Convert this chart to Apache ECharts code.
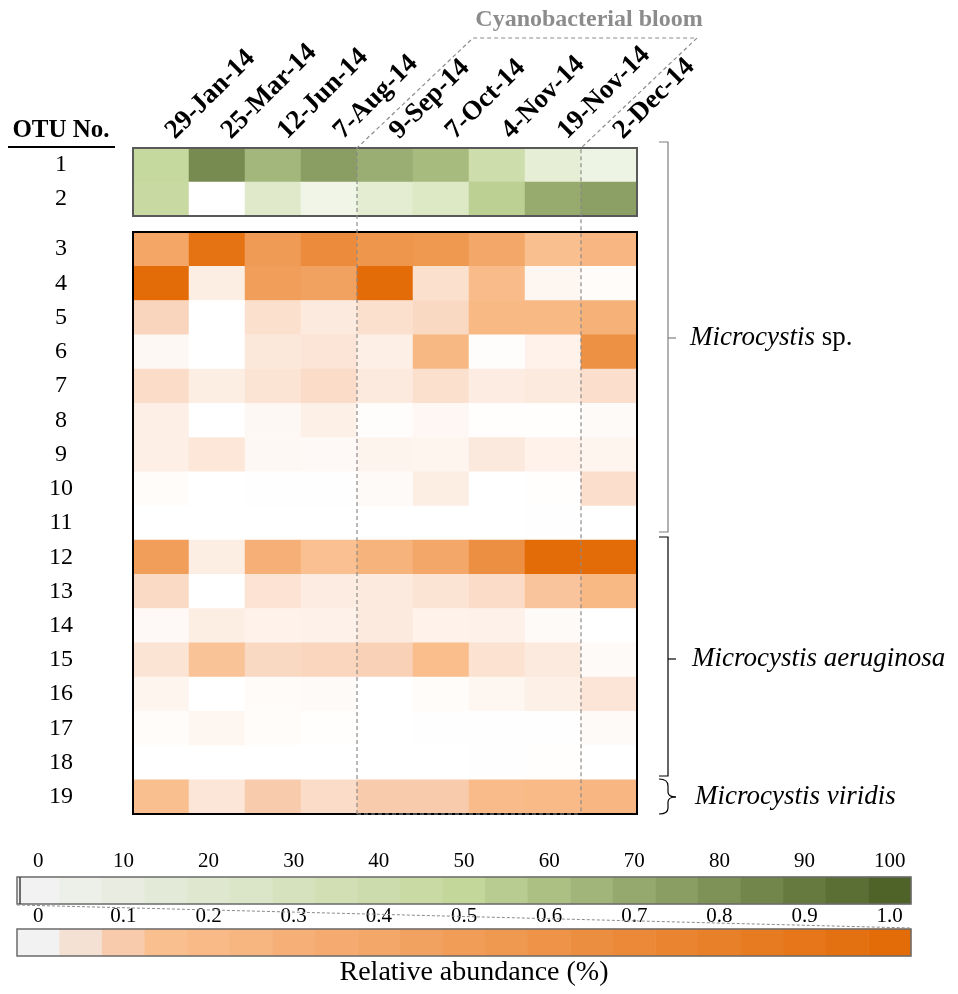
<!DOCTYPE html>
<html><head><meta charset="utf-8">
<script src="https://cdn.jsdelivr.net/npm/echarts@6/dist/echarts.min.js"></script>
<style>html,body{margin:0;padding:0;background:#fff}#chart{width:958px;height:994px}</style>
</head><body><div id="chart"></div>
<script>
// ---------------- data ----------------
const dates = ['29-Jan-14','25-Mar-14','12-Jun-14','7-Aug-14','9-Sep-14','7-Oct-14','4-Nov-14','19-Nov-14','2-Dec-14'];
const greenOtus = ['1','2'];
const orangeOtus = ['3','4','5','6','7','8','9','10','11','12','13','14','15','16','17','18','19'];
// relative abundance (%) : OTU 1-2 on 0-100 scale
const otu1 = [49, 83, 64, 75, 68, 62, 42, 21, 14];
const otu2 = [47, 0, 26, 12, 23, 29, 53, 69, 74];
// OTU 3-19 on 0-1 scale
const otu3  = [0.41, 0.93, 0.52, 0.68, 0.57, 0.55, 0.39, 0.15, 0.23];
const otu4  = [1.0, 0.033, 0.49, 0.45, 1.0, 0.06, 0.19, 0.017, 0.006];
const otu5  = [0.08, 0, 0.06, 0.04, 0.06, 0.073, 0.21, 0.21, 0.29];
const otu6  = [0.013, 0, 0.044, 0.05, 0.03, 0.22, 0.004, 0.025, 0.62];
const otu7  = [0.067, 0.033, 0.052, 0.067, 0.04, 0.06, 0.037, 0.04, 0.063];
const otu8  = [0.03, 0, 0.013, 0.029, 0.004, 0.015, 0.002, 0.002, 0.01];
const otu9  = [0.03, 0.046, 0.013, 0.011, 0.021, 0.019, 0.042, 0.025, 0.02];
const otu10 = [0.006, 0, 0.001, 0.001, 0.01, 0.033, 0, 0.002, 0.063];
const otu11 = [0, 0, 0, 0, 0, 0, 0, 0.001, 0];
const otu12 = [0.49, 0.033, 0.30, 0.146, 0.27, 0.39, 0.64, 1.0, 1.0];
const otu13 = [0.071, 0, 0.054, 0.037, 0.04, 0.052, 0.067, 0.129, 0.21];
const otu14 = [0.011, 0.033, 0.025, 0.027, 0.04, 0.025, 0.027, 0.01, 0];
const otu15 = [0.052, 0.137, 0.073, 0.079, 0.088, 0.17, 0.056, 0.04, 0.01];
const otu16 = [0.019, 0, 0.008, 0.01, 0, 0.006, 0.017, 0.029, 0.05];
const otu17 = [0.006, 0.017, 0.006, 0.002, 0, 0.001, 0.001, 0.001, 0.01];
const otu18 = [0, 0, 0, 0, 0, 0, 0.001, 0.002, 0];
const otu19 = [0.15, 0.048, 0.1, 0.067, 0.1, 0.1, 0.19, 0.2, 0.23];
// colour-bar steps and tick labels
const greenSteps  = [0,5,10,15,20,25,30,35,40,45,50,55,60,65,70,75,80,85,90,95,100];
const orangeSteps = [0,0.05,0.1,0.15,0.2,0.25,0.3,0.35,0.4,0.45,0.5,0.55,0.6,0.65,0.7,0.75,0.8,0.85,0.9,0.95,1.0];
const greenTicks  = ['0','10','20','30','40','50','60','70','80','90','100'];
const orangeTicks = ['0','0.1','0.2','0.3','0.4','0.5','0.6','0.7','0.8','0.9','1.0'];

// ---------------- styling helpers ----------------
const FONT = "'Liberation Serif','Times New Roman',serif";
function hex2rgb(h){return [parseInt(h.slice(1,3),16),parseInt(h.slice(3,5),16),parseInt(h.slice(5,7),16)];}
function lerp(a,b,t){const A=hex2rgb(a),B=hex2rgb(b);return 'rgb('+A.map((v,i)=>Math.round(v+(B[i]-v)*t)).join(',')+')';}
function orangeScale(c0,c1){
  const arr=[c0,c1,'#f8cbad'];
  for(let k=3;k<=20;k++) arr.push(lerp('#fabf8f','#e36c09',(k-3)/17));
  return arr;
}
const greenMapColors  = ['#ffffff','#c4d79b','#4f6228'];
const greenBarColors  = ['#f2f2f2','#c4d79b','#4f6228'];
const orangeMapColors = orangeScale('#ffffff','#fce5d6');
const orangeBarColors = orangeScale('#f2f2f2','#f5e1d4');

// ---------------- layout ----------------
const GX = 133, GW = 504, COLW = GW/9;
const GT = 148, GH = 68;
const OT = 232, OH = 582;
const LBX = 17, LBW = 894, LGT = 877, LOT = 929, LBH = 27;

function cells(rows){
  const out=[];
  rows.forEach((r,ri)=>r.forEach((v,ci)=>out.push([ci,ri,v])));
  return out;
}
const greenData  = cells([otu1,otu2]);
const orangeData = cells([otu3,otu4,otu5,otu6,otu7,otu8,otu9,otu10,otu11,otu12,otu13,otu14,otu15,otu16,otu17,otu18,otu19]);

const chart = echarts.init(document.getElementById('chart'));
const yLab = {fontFamily:FONT,fontSize:24,color:'#000',align:'center',margin:GX-61};
const hm = {type:'heatmap',silent:true,itemStyle:{borderWidth:0},emphasis:{disabled:true},progressive:0};

const dash = {stroke:'#8c8c8c',lineWidth:1.2,lineDash:[4,3],fill:null};
const c4 = GX+4*COLW, c8 = GX+8*COLW;
const brace = {stroke:'#000',lineWidth:1.2,fill:null};
const italic = {i:{fontStyle:'italic',fontFamily:FONT,fontSize:27}};
const option = {
  animation:false,
  backgroundColor:'#fff',
  grid:[
    {left:GX,top:GT,width:GW,height:GH},
    {left:GX,top:OT,width:GW,height:OH},
    {left:LBX,top:LGT,width:LBW,height:LBH},
    {left:LBX,top:LOT,width:LBW,height:LBH}
  ],
  xAxis:[
    {gridIndex:0,type:'category',data:dates,position:'top',axisLine:{show:false},axisTick:{show:false},
     axisLabel:{interval:0,rotate:-45,margin:4,padding:[0,0,0,13],fontFamily:FONT,fontWeight:'bold',fontSize:27,color:'#000'}},
    {gridIndex:1,type:'category',data:dates,show:false},
    {gridIndex:2,type:'category',data:greenSteps.map(String),position:'top',axisLine:{show:false},axisTick:{show:false},
     axisLabel:{interval:0,margin:5,fontFamily:FONT,fontSize:21,color:'#000',formatter:(v,i)=>i%2===0?greenTicks[i/2]:''}},
    {gridIndex:3,type:'category',data:orangeSteps.map(String),position:'top',axisLine:{show:false},axisTick:{show:false},
     axisLabel:{interval:0,margin:2,fontFamily:FONT,fontSize:21,color:'#000',formatter:(v,i)=>i%2===0?orangeTicks[i/2]:''}}
  ],
  yAxis:[
    {gridIndex:0,type:'category',data:greenOtus,inverse:true,axisLine:{show:false},axisTick:{show:false},axisLabel:yLab},
    {gridIndex:1,type:'category',data:orangeOtus,inverse:true,axisLine:{show:false},axisTick:{show:false},axisLabel:yLab},
    {gridIndex:2,type:'category',data:['g'],show:false},
    {gridIndex:3,type:'category',data:['o'],show:false}
  ],
  visualMap:[
    {type:'continuous',show:false,seriesIndex:0,dimension:2,min:0,max:100,inRange:{color:greenMapColors}},
    {type:'continuous',show:false,seriesIndex:1,dimension:2,min:0,max:1,inRange:{color:orangeMapColors}},
    {type:'continuous',show:false,seriesIndex:2,dimension:2,min:0,max:100,inRange:{color:greenBarColors}},
    {type:'continuous',show:false,seriesIndex:3,dimension:2,min:0,max:1,inRange:{color:orangeBarColors}}
  ],
  series:[
    Object.assign({},hm,{xAxisIndex:0,yAxisIndex:0,data:greenData}),
    Object.assign({},hm,{xAxisIndex:1,yAxisIndex:1,data:orangeData}),
    Object.assign({},hm,{xAxisIndex:2,yAxisIndex:2,data:greenSteps.map((v,i)=>[i,0,v])}),
    Object.assign({},hm,{xAxisIndex:3,yAxisIndex:3,data:orangeSteps.map((v,i)=>[i,0,v])})
  ],
  graphic:[
    // block borders
    {type:'rect',z:100,shape:{x:GX,y:GT,width:GW,height:GH},style:{fill:null,stroke:'#595959',lineWidth:2}},
    {type:'rect',z:100,shape:{x:GX,y:OT,width:GW,height:OH},style:{fill:null,stroke:'#000',lineWidth:2}},
    {type:'rect',z:100,shape:{x:LBX,y:LGT,width:LBW,height:LBH},style:{fill:null,stroke:'#6b6b6b',lineWidth:1.5}},
    {type:'rect',z:100,shape:{x:LBX,y:LOT,width:LBW,height:LBH},style:{fill:null,stroke:'#6b6b6b',lineWidth:1.5}},
    {type:'line',z:100,shape:{x1:LBX+3,y1:LGT,x2:LBX+3,y2:LGT+LBH},style:{stroke:'#404040',lineWidth:1.5}},
    // zoom link dashed line between colour bars
    {type:'line',z:100,shape:{x1:LBX,y1:LGT+LBH+1,x2:LBX+LBW,y2:LOT-1},style:{stroke:'#8c8c8c',lineWidth:1,lineDash:[3,2]}},
    // bloom box
    {type:'polyline',z:110,shape:{points:[[c4,OT+OH],[c4,GT],[c4+116,38],[c8+116,38],[c8,GT],[c8,OT+OH]]},style:dash},
    {type:'line',z:110,shape:{x1:c4,y1:OT+OH,x2:c8,y2:OT+OH},style:dash},
    {type:'text',z:110,style:{x:589,y:20,text:'Cyanobacterial bloom',fill:'#8c8c8c',font:"bold 24px "+FONT,align:'center',verticalAlign:'middle'}},
    // header
    {type:'text',style:{x:61,y:131,text:'OTU No.',fill:'#000',font:"bold 25px "+FONT,align:'center',verticalAlign:'middle'}},
    {type:'line',shape:{x1:8,y1:147,x2:115,y2:147},style:{stroke:'#000',lineWidth:2}},
    // brackets
    {type:'polyline',shape:{points:[[659,142],[668,142],[668,532],[659,532]]},style:{stroke:'#7f7f7f',lineWidth:1.2,fill:null}},
    {type:'line',shape:{x1:668,y1:338,x2:676,y2:338},style:{stroke:'#7f7f7f',lineWidth:1.2}},
    {type:'polyline',shape:{points:[[659,537],[668,537],[668,776],[659,776]]},style:{stroke:'#000',lineWidth:1.2,fill:null}},
    {type:'line',shape:{x1:668,y1:659,x2:676,y2:659},style:{stroke:'#000',lineWidth:1.2}},
    {type:'bezierCurve',shape:{x1:659,y1:779,cpx1:668,cpy1:779,x2:668,y2:786},style:brace},
    {type:'line',shape:{x1:668,y1:786,x2:668,y2:792},style:brace},
    {type:'bezierCurve',shape:{x1:668,y1:792,cpx1:668,cpy1:797,x2:676,y2:797},style:brace},
    {type:'bezierCurve',shape:{x1:676,y1:797,cpx1:668,cpy1:797,x2:668,y2:802},style:brace},
    {type:'line',shape:{x1:668,y1:802,x2:668,y2:808},style:brace},
    {type:'bezierCurve',shape:{x1:668,y1:808,cpx1:668,cpy1:814,x2:659,y2:814},style:brace},
    // species labels
    {type:'text',style:{x:690,y:338,text:'{i|Microcystis} sp.',fill:'#000',font:"27px "+FONT,verticalAlign:'middle',rich:italic}},
    {type:'text',style:{x:692,y:659,text:'{i|Microcystis aeruginosa}',fill:'#000',font:"27px "+FONT,verticalAlign:'middle',rich:italic}},
    {type:'text',style:{x:695,y:797,text:'{i|Microcystis viridis}',fill:'#000',font:"27px "+FONT,verticalAlign:'middle',rich:italic}},
    // colour bar title
    {type:'text',style:{x:474,y:973,text:'Relative abundance (%)',fill:'#000',font:"28px "+FONT,align:'center',verticalAlign:'middle'}}
  ]
};
chart.setOption(option);
</script></body></html>
